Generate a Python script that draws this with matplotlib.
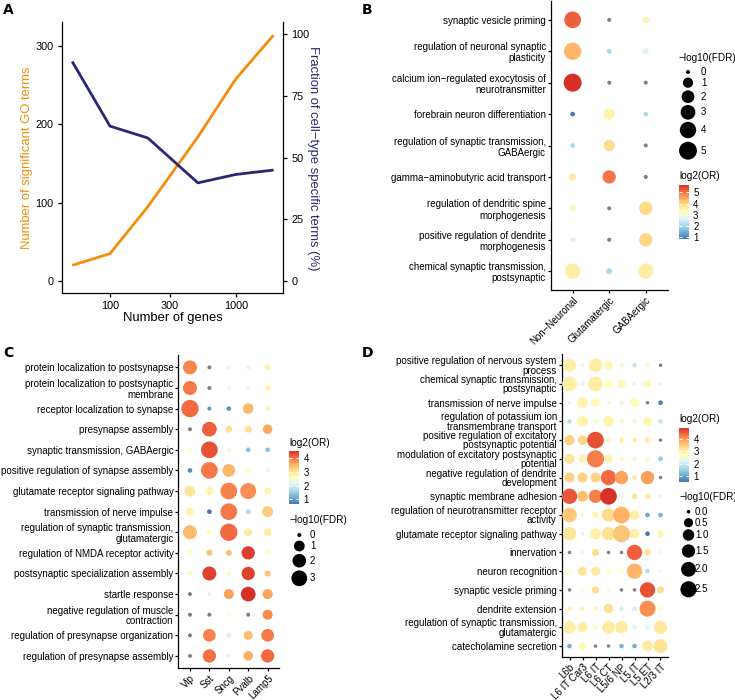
import numpy as np
import matplotlib
matplotlib.use("Agg")
import matplotlib.pyplot as plt
from matplotlib.colors import LinearSegmentedColormap, Normalize
from matplotlib.cm import ScalarMappable
from matplotlib.ticker import NullLocator

plt.rcParams['font.family'] = ['Liberation Sans', 'DejaVu Sans']
nan = np.nan

# ---------------- Panel A data ----------------
genes = [50, 100, 200, 500, 1000, 2000]
go_terms = [20, 35, 95, 184, 258, 314]
specific_pct = [89.0, 62.8, 58.0, 39.8, 43.2, 45.0]

# ---------------- Panel B data ----------------
B_terms = ["synaptic vesicle priming",
           "regulation of neuronal synaptic\nplasticity",
           "calcium ion\u2212regulated exocytosis of\nneurotransmitter",
           "forebrain neuron differentiation",
           "regulation of synaptic transmission,\nGABAergic",
           "gamma\u2212aminobutyric acid transport",
           "regulation of dendritic spine\nmorphogenesis",
           "positive regulation of dendrite\nmorphogenesis",
           "chemical synaptic transmission,\npostsynaptic"]
B_types = ["Non\u2212Neuronal", "Glutamatergic", "GABAergic"]
B_log2or = [[5.17, nan, 3.49],
            [4.35, 2.05, 2.77],
            [5.65, nan, nan],
            [0.85, 3.49, 2.05],
            [2.00, 3.87, nan],
            [3.63, 4.98, nan],
            [3.10, nan, 3.92],
            [2.58, nan, 3.97],
            [3.59, 2.05, 3.59]]
B_fdr = [[4.20, 0.00, 0.19],
         [4.60, 0.01, 0.19],
         [5.10, 0.00, 0.00],
         [0.01, 1.39, 0.01],
         [0.01, 1.39, 0.00],
         [0.28, 2.25, 0.00],
         [0.28, 0.00, 2.25],
         [0.01, 0.00, 2.25],
         [3.32, 0.10, 3.32]]

# ---------------- Panel C data ----------------
C_terms = ["protein localization to postsynapse",
           "protein localization to postsynaptic\nmembrane",
           "receptor localization to synapse",
           "presynapse assembly",
           "synaptic transmission, GABAergic",
           "positive regulation of synapse assembly",
           "glutamate receptor signaling pathway",
           "transmission of nerve impulse",
           "regulation of synaptic transmission,\nglutamatergic",
           "regulation of NMDA receptor activity",
           "postsynaptic specialization assembly",
           "startle response",
           "negative regulation of muscle\ncontraction",
           "regulation of presynapse organization",
           "regulation of presynapse assembly"]
C_types = ["Vip", "Sst", "Sncg", "Pvalb", "Lamp5"]
C_log2or = [[3.87, nan, 2.29, 2.29, 2.79],
            [3.95, nan, 2.40, 2.40, 2.79],
            [4.07, 0.93, 0.93, 3.45, 2.79],
            [nan, 4.14, 3.06, 3.06, 3.60],
            [2.48, 4.26, 2.40, 1.36, 1.36],
            [0.85, 3.95, 3.49, 2.67, 2.21],
            [2.98, 2.79, 3.91, 3.79, 2.79],
            [2.79, 0.66, 3.95, 1.70, 3.29],
            [3.45, 2.67, 4.07, 2.90, 2.90],
            [2.52, 3.37, 3.37, 4.41, 2.52],
            [2.52, 4.38, 2.48, 4.38, 3.37],
            [nan, 2.29, 3.68, 4.53, 3.64],
            [nan, nan, 2.44, nan, 3.83],
            [nan, 3.91, 2.01, 3.45, 3.95],
            [nan, 4.03, 2.21, 3.56, 4.07]]
C_fdr = [[2.16, 0.00, 0.00, 0.00, 0.09],
         [2.16, 0.00, 0.00, 0.00, 0.09],
         [3.83, 0.00, 0.01, 0.97, 0.02],
         [0.00, 2.48, 0.19, 0.19, 0.65],
         [0.00, 3.49, 0.00, 0.01, 0.01],
         [0.01, 3.49, 1.64, 0.02, 0.00],
         [1.06, 0.35, 3.49, 3.11, 0.19],
         [0.35, 0.01, 3.49, 0.02, 1.06],
         [2.16, 0.05, 3.83, 0.35, 0.35],
         [0.01, 0.09, 0.09, 1.87, 0.01],
         [0.01, 2.16, 0.01, 1.87, 0.09],
         [0.00, 0.00, 0.78, 2.48, 0.78],
         [0.00, 0.00, 0.00, 0.00, 0.78],
         [0.00, 1.64, 0.01, 0.54, 1.64],
         [0.00, 1.87, 0.00, 0.65, 1.87]]

# ---------------- Panel D data ----------------
D_terms = ["positive regulation of nervous system\nprocess",
           "chemical synaptic transmission,\npostsynaptic",
           "transmission of nerve impulse",
           "regulation of potassium ion\ntransmembrane transport",
           "positive regulation of excitatory\npostsynaptic potential",
           "modulation of excitatory postsynaptic\npotential",
           "negative regulation of dendrite\ndevelopment",
           "synaptic membrane adhesion",
           "regulation of neurotransmitter receptor\nactivity",
           "glutamate receptor signaling pathway",
           "innervation",
           "neuron recognition",
           "synaptic vesicle priming",
           "dendrite extension",
           "regulation of synaptic transmission,\nglutamatergic",
           "catecholamine secretion"]
D_types = ["L6b", "L6 IT Car3", "L6 IT", "L6 CT", "L5/6 NP", "L5 IT", "L5 ET", "L2/3 IT"]
D_log2or = [[3.00, 2.50, 3.05, 2.85, 2.50, 1.85, 2.50, nan],
            [3.00, 2.20, 3.05, 2.75, 2.82, 2.30, 2.86, 2.38],
            [2.50, 2.95, 2.82, 2.50, 2.50, 2.82, nan, 0.63],
            [1.77, 2.95, 2.60, 2.95, 2.50, 2.50, 2.86, 1.94],
            [3.43, 3.39, 4.61, 2.95, 3.08, 3.08, 3.08, nan],
            [3.17, 3.00, 4.22, 2.95, 2.60, 2.60, 2.60, 1.50],
            [3.43, 3.43, 3.43, 4.39, 3.91, 3.08, 3.96, nan],
            [4.57, 3.65, 4.22, 4.92, 2.38, 3.17, 3.17, 2.38],
            [3.52, 2.38, 2.95, 3.34, 3.78, 3.00, 1.07, 1.15],
            [3.17, 2.38, 3.00, 3.26, 3.56, 3.00, 0.54, 2.90],
            [nan, 2.51, 3.30, nan, nan, 4.48, 3.26, 2.60],
            [2.73, 3.17, 3.12, 2.73, 2.73, 3.74, 1.72, 2.64],
            [nan, 2.64, 3.30, 2.64, nan, nan, 4.61, 3.30],
            [2.95, 2.95, 2.86, 3.26, 2.07, 2.07, 4.09, 2.86],
            [3.04, 3.04, 2.60, 3.08, 3.08, 2.20, 2.20, 3.12],
            [1.11, 2.86, nan, nan, 1.20, 1.11, 3.08, 3.21]]
D_fdr = [[1.50, 0.02, 1.50, 0.42, 0.02, 0.02, 0.02, 0.00],
         [1.96, 0.00, 1.96, 0.42, 0.42, 0.00, 0.25, 0.00],
         [0.00, 0.81, 0.42, 0.00, 0.02, 0.42, 0.00, 0.02],
         [0.02, 0.81, 0.02, 0.81, 0.02, 0.02, 0.42, 0.035],
         [0.66, 0.56, 2.72, 0.02, 0.035, 0.035, 0.035, 0.00],
         [0.66, 0.25, 2.90, 0.32, 0.02, 0.02, 0.02, 0.035],
         [0.66, 0.66, 0.66, 2.18, 1.50, 0.02, 1.50, 0.00],
         [2.18, 0.81, 1.50, 2.72, 0.00, 0.063, 0.063, 0.00],
         [1.96, 0.00, 0.10, 1.50, 2.72, 0.56, 0.02, 0.02],
         [1.50, 0.00, 0.88, 1.50, 2.90, 0.56, 0.02, 0.19],
         [0.00, 0.00, 0.19, 0.00, 0.00, 2.18, 0.14, 0.00],
         [0.02, 0.47, 0.47, 0.02, 0.02, 2.18, 0.02, 0.00],
         [0.00, 0.00, 0.19, 0.00, 0.00, 0.00, 2.18, 0.19],
         [0.02, 0.02, 0.02, 0.56, 0.02, 0.02, 2.44, 0.00],
         [1.32, 0.66, 0.02, 1.32, 1.32, 0.02, 0.02, 1.50],
         [0.02, 0.19, 0.00, 0.00, 0.02, 0.02, 0.81, 1.72]]

# ---------------- figure ----------------
W, H = 735, 700
fig = plt.figure(figsize=(W / 100, H / 100), dpi=100)

def ax_px(l, t, r, b):
    return fig.add_axes([l / W, 1 - b / H, (r - l) / W, (b - t) / H])

cmap = LinearSegmentedColormap.from_list(
    "rdylbu9", ["#4575B4", "#74ADD1", "#ABD9E9", "#E0F3F8", "#FFFFBF",
                "#FEE090", "#FDAE61", "#F46D43", "#D73027"])

def size_pts(v, d0, k):
    d = d0 + k * np.sqrt(np.asarray(v, float))
    return (d * 0.72) ** 2

def style_axes(ax, spines=("left", "bottom")):
    for sp in ["left", "right", "top", "bottom"]:
        ax.spines[sp].set_visible(sp in spines)
        ax.spines[sp].set_linewidth(0.9)
        ax.spines[sp].set_color("black")

# ---------------- Panel A ----------------
orange = "#F28E0A"
navy = "#2B2873"
axA = ax_px(62, 22, 283, 293)
axA.plot(genes, go_terms, color=orange, lw=2.0, solid_capstyle="butt", zorder=3)
axA.set_xscale("log")
axA.set_xlim(41.5, 2377)
axA.set_ylim(-15.3, 330.8)
axA.set_xticks([100, 300, 1000])
axA.set_xticklabels(["100", "300", "1000"])
axA.xaxis.set_minor_locator(NullLocator())
axA.set_yticks([0, 100, 200, 300])
axA.tick_params(labelsize=7.8, length=3, width=0.9, pad=3, colors="black")
style_axes(axA, ("left", "bottom"))
axA2 = axA.twinx()
axA2.plot(genes, specific_pct, color=navy, lw=2.0, solid_capstyle="butt", zorder=3)
axA2.set_ylim(-15.3 * 0.3175, 330.8 * 0.3175)
axA2.set_yticks([0, 25, 50, 75, 100])
axA2.tick_params(labelsize=7.8, length=3, width=0.9, pad=3, colors="black")
style_axes(axA2, ("right",))
axA2.xaxis.set_minor_locator(NullLocator())

# ---------------- dot plots ----------------
def dotplot(ax, terms, types, orv, fdr, d0, k, lsp):
    orv = np.asarray(orv, float)
    fdr = np.asarray(fdr, float)
    n, m = orv.shape
    X, Y = np.meshgrid(np.arange(m), np.arange(n))
    s = size_pts(fdr, d0, k)
    g = np.isnan(orv)
    norm = Normalize(np.nanmin(orv), np.nanmax(orv))
    ax.scatter(X[g], Y[g], s=s[g], color="#7F7F7F", linewidths=0, zorder=3, clip_on=False)
    ax.scatter(X[~g], Y[~g], s=s[~g], c=orv[~g], cmap=cmap, norm=norm,
               linewidths=0, zorder=3, clip_on=False)
    ax.set_xlim(-0.6, m - 0.4)
    ax.set_ylim(n - 0.4, -0.6)
    ax.set_xticks(range(m))
    ax.set_xticklabels(types, rotation=45, ha="right", va="top",
                       rotation_mode="anchor", fontsize=7)
    ax.set_yticks(range(n))
    ax.set_yticklabels(terms, fontsize=7, linespacing=lsp)
    ax.tick_params(length=2, width=0.9, pad=1.5, colors="black")
    style_axes(ax)
    return norm

axB = ax_px(550.7, 1, 667.7, 290)
normB = dotplot(axB, B_terms, B_types, B_log2or, B_fdr, 4.0, 6.2, 1.15)
axC = ax_px(178.3, 355, 279.3, 668.3)
normC = dotplot(axC, C_terms, C_types, C_log2or, C_fdr, 4.0, 6.8, 1.08)
axD = ax_px(561.7, 354, 668.3, 657.3)
normD = dotplot(axD, D_terms, D_types, D_log2or, D_fdr, 3.5, 8.0, 0.92)

def add_cbar(l, t, r, b, norm, ticks):
    cax = ax_px(l, t, r, b)
    cb = fig.colorbar(ScalarMappable(norm=norm, cmap=cmap), cax=cax, ticks=ticks)
    cb.outline.set_visible(False)
    cax.tick_params(axis="y", which="both", direction="in", length=2.2, width=0.7,
                    color="white", left=True, right=True, labelleft=False,
                    labelright=True, labelsize=7, pad=3, labelcolor="black")
    cax.yaxis.set_minor_locator(NullLocator())
    return cb

add_cbar(679, 185, 689, 239, normB, [1, 2, 3, 4, 5])
add_cbar(289.3, 450.7, 299.3, 504, normC, [1, 2, 3, 4])
add_cbar(679.3, 427.7, 689.3, 481.7, normD, [1, 2, 3, 4])

# ---------------- overlay for texts & size legends ----------------
ov = fig.add_axes([0, 0, 1, 1])
ov.set_xlim(0, W)
ov.set_ylim(H, 0)
ov.axis("off")

# panel A axis titles
ov.text(27, 157.5, "Number of significant GO terms", color=orange, fontsize=9.4,
        rotation=90, ha="center", va="center")
ov.text(313, 158.5, "Fraction of cell\u2212type specific terms (%)", color=navy,
        fontsize=9.4, rotation=270, ha="center", va="center")
ov.text(172.5, 318, "Number of genes", fontsize=9.4, ha="center", va="center")

# panel letters
for lab, x, y in [("A", 3, 10), ("B", 362, 10), ("C", 3, 353), ("D", 362, 353)]:
    ov.text(x, y, lab, fontsize=10, fontweight="bold", family="DejaVu Sans",
            ha="left", va="center")

# colorbar titles
ov.text(679, 176, "log2(OR)", fontsize=7.2, ha="left", va="center")
ov.text(289.3, 442.7, "log2(OR)", fontsize=7.2, ha="left", va="center")
ov.text(679.3, 419.3, "log2(OR)", fontsize=7.2, ha="left", va="center")

def size_legend(xt, yt, xd, xl, ys, breaks, labels, d0, k):
    ov.text(xt, yt, "\u2212log10(FDR)", fontsize=7.2, ha="left", va="center")
    ov.scatter([xd] * len(ys), ys, s=size_pts(breaks, d0, k), color="black",
               linewidths=0, clip_on=False)
    for y, lab in zip(ys, labels):
        ov.text(xl, y, lab, fontsize=7, ha="left", va="center")

size_legend(679, 58, 688, 701, [72, 82.7, 96.7, 112.3, 130, 150.7],
            [0, 1, 2, 3, 4, 5], ["0", "1", "2", "3", "4", "5"], 4.0, 6.2)
size_legend(289.3, 520, 299.3, 310, [535, 546, 560.7, 578.3],
            [0, 1, 2, 3], ["0", "1", "2", "3"], 4.0, 6.8)
size_legend(679.3, 496.7, 688.5, 695, [511.7, 522.7, 535, 551, 569.3, 589.3],
            [0, 0.5, 1.0, 1.5, 2.0, 2.5], ["0.0", "0.5", "1.0", "1.5", "2.0", "2.5"],
            3.5, 8.0)

fig.savefig("out.png", dpi=100)
